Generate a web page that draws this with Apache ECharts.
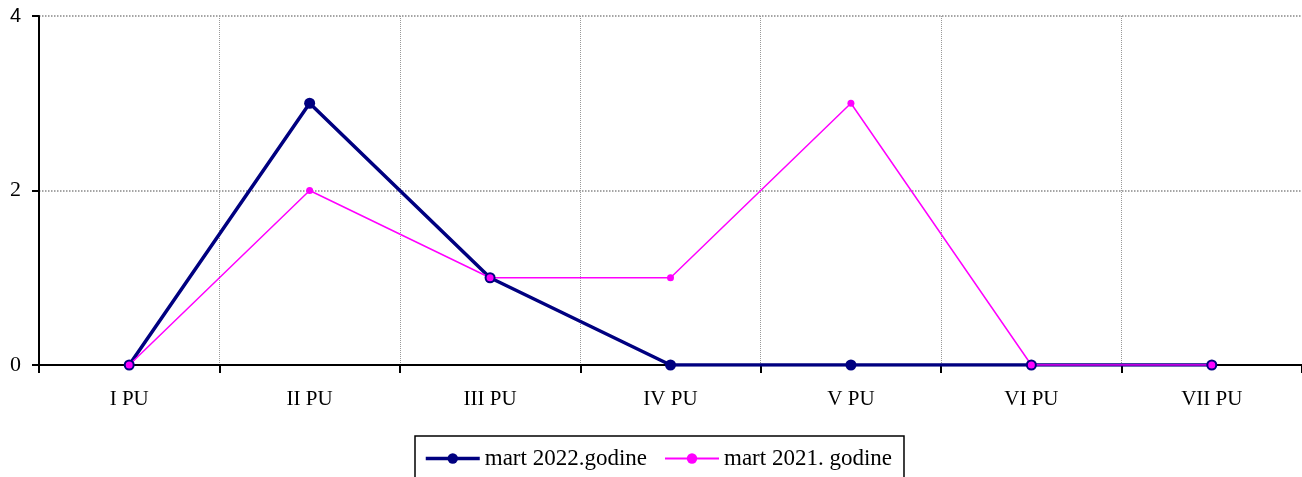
<!DOCTYPE html>
<html><head><meta charset="utf-8">
<script src="https://cdn.jsdelivr.net/npm/echarts@6/dist/echarts.min.js"></script>
<style>html,body{margin:0;padding:0;background:#fff}#c{width:1302px;height:477px}</style>
</head><body><div id="c"></div>
<script>
const categories = ['I PU','II PU','III PU','IV PU','V PU','VI PU','VII PU'];
const series2022 = [0,3,1,0,0,0,0];
const series2021 = [0,2,1,1,3,0,0];
const name2022 = 'mart 2022.godine';
const name2021 = 'mart 2021. godine';
const font = 'Liberation Serif, Times New Roman, serif';
const sans = 'Liberation Sans, Arial, sans-serif';
const chart = echarts.init(document.getElementById('c'), null, {renderer:'canvas'});
chart.setOption({
  animation:false,
  grid:{left:39,right:0,top:16,bottom:112,containLabel:false},
  legend:{
    top:436,left:415,
    data:[
      {name:name2022,lineStyle:{width:3.5},itemStyle:{color:'#000080'}},
      {name:name2021,lineStyle:{width:2},itemStyle:{color:'#FF00FF'}}
    ],
    itemWidth:54,itemHeight:13,itemGap:17,
    borderColor:'#000',borderWidth:1.5,
    padding:[11,12,20,9],
    textStyle:{fontFamily:font,fontSize:23,color:'#000'}
  },
  xAxis:{
    type:'category',data:categories,boundaryGap:true,
    axisLine:{lineStyle:{color:'#000',width:2}},
    axisTick:{show:true,length:8,lineStyle:{color:'#000',width:2}},
    axisLabel:{fontFamily:font,fontSize:21,color:'#000',margin:24},
    splitLine:{show:true,lineStyle:{color:'#999',type:'dotted',width:1}}
  },
  yAxis:{
    type:'value',min:0,max:4,interval:2,
    axisLine:{show:true,lineStyle:{color:'#000',width:2}},
    axisTick:{show:true,length:7,lineStyle:{color:'#000',width:2}},
    axisLabel:{
      margin:18,
      formatter:function(v){return v===4?'{s|4}':'{r|'+v+'}';},
      rich:{
        s:{fontFamily:sans,fontSize:20,color:'#000'},
        r:{fontFamily:font,fontSize:22,color:'#000'}
      }
    },
    splitLine:{show:true,lineStyle:{color:'#888',type:'dotted',width:1.5}}
  },
  series:[
    {name:name2022,type:'line',data:series2022,symbol:'circle',symbolSize:11,
     lineStyle:{color:'#000080',width:3.5},itemStyle:{color:'#000080'}},
    {name:name2021,type:'line',data:series2021,symbol:'circle',symbolSize:7,
     lineStyle:{color:'#FF00FF',width:1.5},itemStyle:{color:'#FF00FF'}}
  ]
});
</script></body></html>
